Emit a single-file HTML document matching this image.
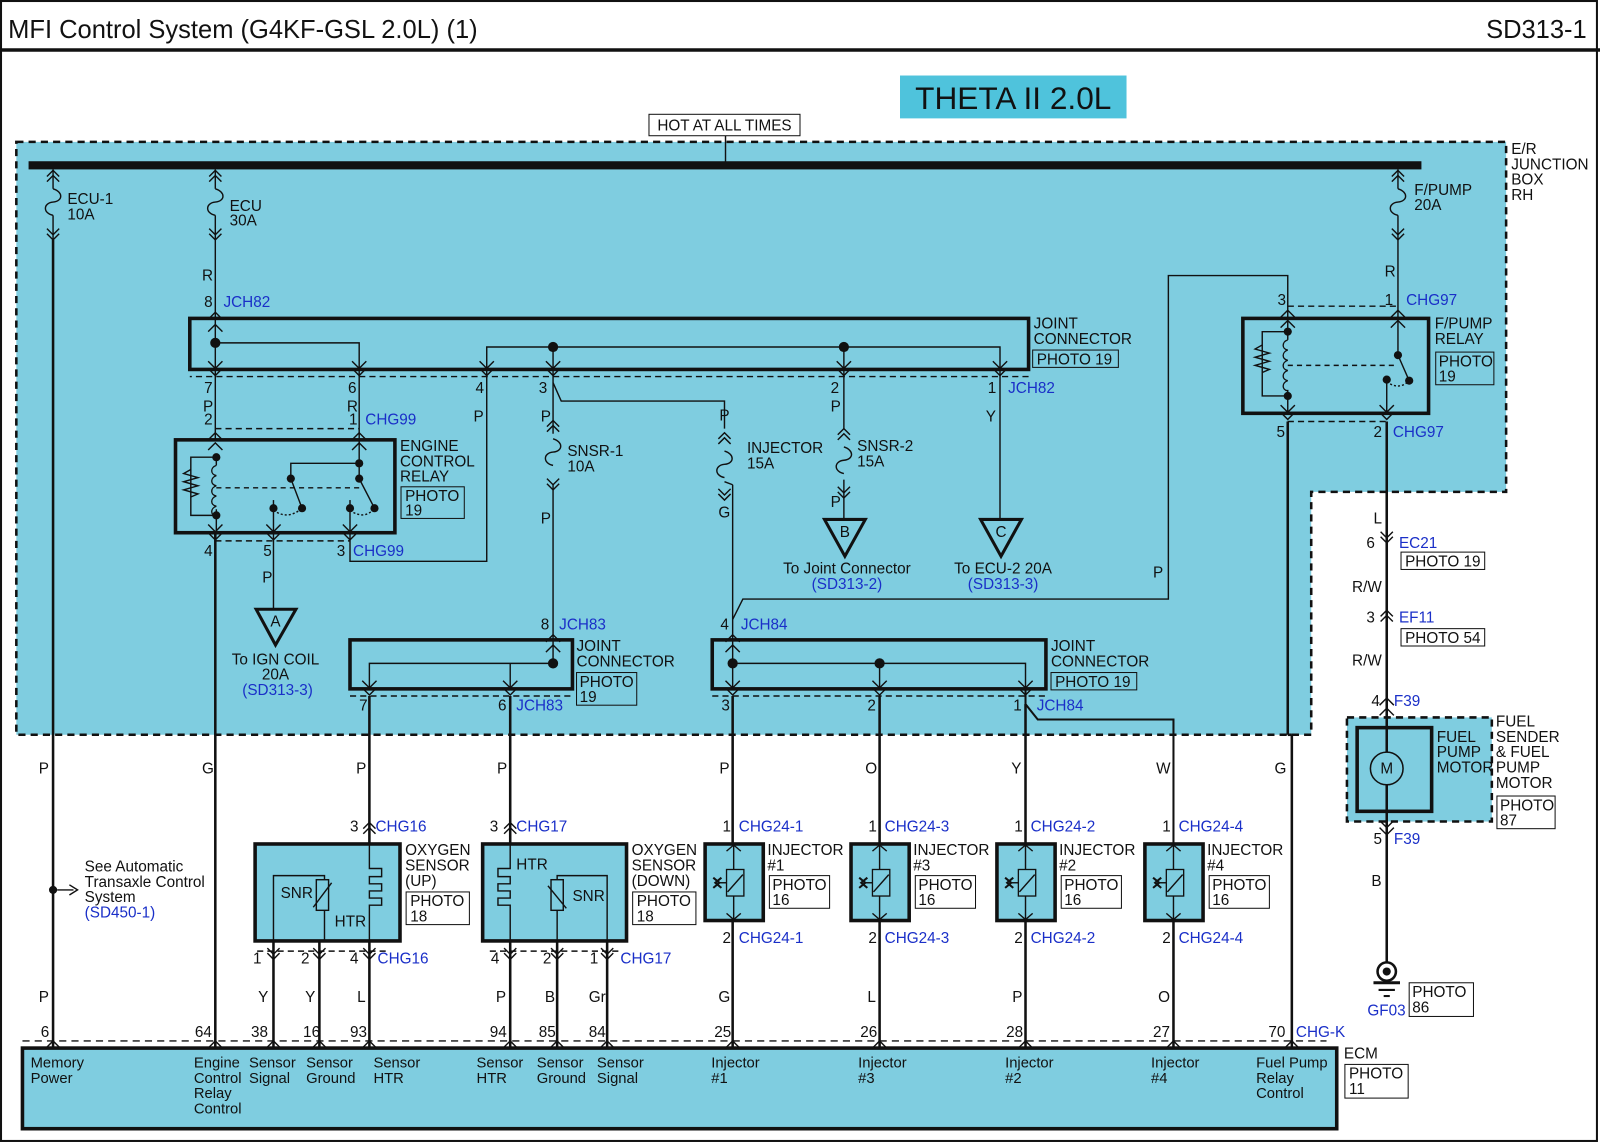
<!DOCTYPE html>
<html><head><meta charset="utf-8"><style>
html,body{margin:0;padding:0;background:#fff}
svg{display:block}
text{font-family:"Liberation Sans",sans-serif;font-size:15px;fill:#111}
.b{fill:#1a2fc8}
.s{font-size:15px}
.e{font-size:14.5px}
</style></head><body>
<svg width="1600" height="1143" viewBox="0 0 1568 1120" preserveAspectRatio="none" xmlns="http://www.w3.org/2000/svg">
<defs>
<g id="cu" fill="none" stroke="#111" stroke-width="1.4"><polyline points="-6,6 0,0 6,6"/><polyline points="-6,11 0,5 6,11"/></g>
<g id="cd" fill="none" stroke="#111" stroke-width="1.4"><polyline points="-6,-6 0,0 6,-6"/><polyline points="-6,-11 0,-5 6,-11"/></g>
<g id="au" fill="none" stroke="#111" stroke-width="1.4"><polyline points="-7,7 0,0 7,7"/></g>
<g id="ad" fill="none" stroke="#111" stroke-width="1.4"><polyline points="-7,-7 0,0 7,-7"/></g>
<path id="fz" d="M0,0 c10,3 10,12 0,13 c-10,1 -10,11 0,13" fill="none" stroke="#111" stroke-width="1.4"/>
<g id="coil" fill="none" stroke="#111" stroke-width="1.3"><path d="M0,0 c-6,2 -6,9 0,10 c-6,2 -6,9 0,10 c-6,2 -6,9 0,10 c-6,2 -6,9 0,10 c-6,2 -6,9 0,10"/></g>
<g id="inj"><rect x="0" y="0" width="57" height="75" fill="#7fcde0" stroke="#111" stroke-width="3.5"/>
<line x1="28" y1="0" x2="28" y2="75" stroke="#111" stroke-width="1.4"/>
<rect x="21" y="25" width="17" height="26" fill="#7fcde0" stroke="#111" stroke-width="1.3"/>
<line x1="22" y1="47" x2="37" y2="30" stroke="#111" stroke-width="1.4"/>
<line x1="12" y1="38" x2="21" y2="38" stroke="#111" stroke-width="1.4"/>
<path d="M8,33 L14,38 L8,43 M16,33 L10,38 L16,43" fill="none" stroke="#111" stroke-width="2"/>
<polyline points="21,7 28,1 35,7" fill="none" stroke="#111" stroke-width="1.4"/>
<polyline points="21,68 28,74 35,68" fill="none" stroke="#111" stroke-width="1.4"/></g>
</defs>
<rect x="0" y="0" width="1568" height="1120" fill="#fff"/>
<rect x="1" y="1" width="1564" height="1117" fill="none" stroke="#111" stroke-width="2"/>
<line x1="0" y1="49" x2="1568" y2="49" stroke="#111" stroke-width="3.5"/>
<text x="8" y="37" style="font-size:25px">MFI Control System (G4KF-GSL 2.0L) (1)</text>
<text x="1555" y="37" text-anchor="end" style="font-size:25px">SD313-1</text>
<rect x="882" y="74" width="222" height="42" fill="#4fc3dc"/>
<text x="993" y="107" text-anchor="middle" style="font-size:31px">THETA II 2.0L</text>

<path d="M16,139 H1476 V482 H1285 V720 H16 Z" fill="#7fcde0" stroke="#111" stroke-width="2.5" stroke-dasharray="7,5"/>
<text x="1481" y="151" class="s">E/R</text><text x="1481" y="166" class="s">JUNCTION</text><text x="1481" y="181" class="s">BOX</text><text x="1481" y="196" class="s">RH</text>
<rect x="636" y="112" width="148" height="21" fill="#fff" stroke="#111"/>
<text x="710" y="128" text-anchor="middle" class="s">HOT AT ALL TIMES</text>
<line x1="711" y1="133" x2="711" y2="160" stroke="#111" stroke-width="1.4"/>
<rect x="28" y="158" width="1365" height="8" fill="#111"/>

<g stroke="#111" stroke-width="1.4" fill="none">
<line x1="52" y1="166" x2="52" y2="185"/><line x1="52" y1="211" x2="52" y2="235"/>
<line x1="211" y1="166" x2="211" y2="185"/><line x1="211" y1="211" x2="211" y2="312"/>
<line x1="1370" y1="166" x2="1370" y2="185"/><line x1="1370" y1="211" x2="1370" y2="312"/>
<line x1="211" y1="312" x2="211" y2="362"/>
<polyline points="211,336 352,336 352,362"/>
<polyline points="477,362 477,340 980,340 980,362"/>
<line x1="542" y1="340" x2="542" y2="362"/><line x1="827" y1="340" x2="827" y2="362"/>
<line x1="1008" y1="369" x2="186" y2="369" stroke-dasharray="6,4"/>
<line x1="211" y1="362" x2="211" y2="431"/><line x1="352" y1="362" x2="352" y2="431"/>
<line x1="211" y1="420" x2="352" y2="420" stroke-dasharray="6,4"/>
<polyline points="477,362 477,550 343,550 343,522"/>
<polyline points="542,362 542,375 550,393 710,393 710,420"/>
<line x1="542" y1="375" x2="542" y2="425"/>
<line x1="542" y1="475" x2="542" y2="628"/>
<line x1="710" y1="472" x2="718" y2="475"/><line x1="718" y1="475" x2="718" y2="628"/>
<line x1="827" y1="362" x2="827" y2="420"/><line x1="827" y1="470" x2="827" y2="510"/>
<line x1="980" y1="362" x2="980" y2="510"/>
<line x1="211" y1="522" x2="211" y2="1027" stroke-width="2.5"/>
<line x1="268" y1="490" x2="268" y2="597"/>
<polyline points="212,448 187,448 187,505 212,505"/>
<path d="M187,460 l-7,4 l14,4 l-14,4 l14,4 l-14,4 l14,4 l-7,3"/>
<line x1="212" y1="448" x2="212" y2="456"/><line x1="212" y1="499" x2="212" y2="522"/>
<line x1="212" y1="478" x2="352" y2="478" stroke-dasharray="5,4"/>
<polyline points="285,469 285,454 352,454 352,431"/><line x1="352" y1="454" x2="352" y2="469"/>
<line x1="285" y1="469" x2="296" y2="498"/><line x1="352" y1="469" x2="367" y2="498"/>
<path d="M268,500 q14,10 28,-2 M343,500 q14,10 24,-2" stroke-dasharray="2,2"/>
<line x1="343" y1="490" x2="343" y2="522"/>
<line x1="211" y1="530" x2="343" y2="530" stroke-dasharray="6,4"/>
<polyline points="542,628 542,650 362,650 362,675"/>
<line x1="500" y1="650" x2="500" y2="675"/>
<line x1="343" y1="682" x2="561" y2="682" stroke-dasharray="6,4"/>
<line x1="718" y1="628" x2="718" y2="675"/>
<polyline points="718,650 1005,650 1005,675"/>
<line x1="862" y1="650" x2="862" y2="675"/>
<line x1="698" y1="682" x2="1025" y2="682" stroke-dasharray="6,4"/>
<polyline points="1005,675 1005,690 1017,705 1150,705 1150,827" stroke-width="2"/>
<polyline points="718,607 728,587 1145,587 1145,270 1262,270 1262,312"/>
<polyline points="1262,325 1237,325 1237,388 1262,388"/>
<path d="M1237,338 l-7,4 l14,4 l-14,4 l14,4 l-14,4 l14,4 l-7,3"/>
<line x1="1262" y1="312" x2="1262" y2="333"/><line x1="1262" y1="382" x2="1262" y2="405"/>
<line x1="1262" y1="358" x2="1370" y2="358" stroke-dasharray="5,4"/>
<line x1="1370" y1="312" x2="1370" y2="348"/><line x1="1370" y1="348" x2="1381" y2="373"/>
<line x1="1359" y1="372" x2="1359" y2="405"/>
<path d="M1359,374 q12,9 22,-1" stroke-dasharray="2,2"/>
<line x1="1262" y1="300" x2="1370" y2="300" stroke-dasharray="6,4"/>
<line x1="1262" y1="413" x2="1359" y2="413" stroke-dasharray="6,4"/>
</g>
<use href="#cu" x="52" y="167"/><use href="#fz" x="52" y="185"/><use href="#cd" x="52" y="235"/>
<use href="#cu" x="211" y="167"/><use href="#fz" x="211" y="185"/><use href="#cd" x="211" y="235"/>
<use href="#cu" x="1370" y="167"/><use href="#fz" x="1370" y="185"/><use href="#cd" x="1370" y="235"/>
<use href="#cu" x="542" y="412"/><use href="#fz" x="542" y="430"/><use href="#cd" x="542" y="480"/>
<use href="#cu" x="710" y="424"/><use href="#fz" x="710" y="442"/><use href="#cd" x="710" y="490"/>
<use href="#cu" x="827" y="420"/><use href="#fz" x="827" y="438"/><use href="#cd" x="827" y="488"/>
<g fill="none" stroke="#111" stroke-width="3.5">
<rect x="186" y="312" width="822" height="50"/>
<rect x="172" y="431" width="215" height="91"/>
<rect x="343" y="627" width="218" height="48"/>
<rect x="698" y="627" width="327" height="48"/>
<rect x="1218" y="312" width="182" height="93"/>
</g>
<g fill="#111">
<circle cx="211" cy="336" r="5"/><circle cx="542" cy="340" r="5"/><circle cx="827" cy="340" r="5"/>
<circle cx="212" cy="448" r="4"/><circle cx="212" cy="505" r="4"/><circle cx="285" cy="469" r="4"/><circle cx="352" cy="454" r="4"/><circle cx="352" cy="469" r="4"/>
<circle cx="268" cy="498" r="4"/><circle cx="296" cy="498" r="4"/><circle cx="343" cy="498" r="4"/><circle cx="367" cy="498" r="4"/>
<circle cx="542" cy="650" r="5"/><circle cx="718" cy="650" r="5"/><circle cx="862" cy="650" r="5"/>
<circle cx="1262" cy="325" r="4"/><circle cx="1262" cy="388" r="4"/><circle cx="1370" cy="348" r="4"/><circle cx="1381" cy="373" r="4"/><circle cx="1359" cy="372" r="4"/>
</g>
<use href="#au" x="211" y="306"/><use href="#au" x="211" y="318"/>
<use href="#ad" x="211" y="361"/><use href="#ad" x="211" y="368"/><use href="#ad" x="352" y="361"/><use href="#ad" x="352" y="368"/>
<use href="#ad" x="477" y="361"/><use href="#ad" x="477" y="368"/><use href="#ad" x="542" y="361"/><use href="#ad" x="542" y="368"/>
<use href="#ad" x="827" y="361"/><use href="#ad" x="827" y="368"/><use href="#ad" x="980" y="361"/><use href="#ad" x="980" y="368"/>
<use href="#au" x="211" y="424"/><use href="#au" x="211" y="434"/><use href="#au" x="352" y="424"/><use href="#au" x="352" y="434"/>
<use href="#ad" x="211" y="521"/><use href="#ad" x="211" y="529"/><use href="#ad" x="268" y="521"/><use href="#ad" x="268" y="529"/><use href="#ad" x="343" y="521"/><use href="#ad" x="343" y="529"/>
<use href="#au" x="542" y="622"/><use href="#au" x="542" y="632"/><use href="#au" x="718" y="622"/><use href="#au" x="718" y="632"/>
<use href="#ad" x="362" y="674"/><use href="#ad" x="362" y="681"/><use href="#ad" x="500" y="674"/><use href="#ad" x="500" y="681"/>
<use href="#ad" x="718" y="674"/><use href="#ad" x="718" y="681"/><use href="#ad" x="862" y="674"/><use href="#ad" x="862" y="681"/><use href="#ad" x="1005" y="674"/><use href="#ad" x="1005" y="681"/>
<use href="#au" x="1262" y="304"/><use href="#au" x="1262" y="314"/><use href="#au" x="1370" y="304"/><use href="#au" x="1370" y="314"/>
<use href="#ad" x="1262" y="404"/><use href="#ad" x="1262" y="411"/><use href="#ad" x="1359" y="404"/><use href="#ad" x="1359" y="411"/>
<use href="#coil" x="212" y="456"/><use href="#coil" x="1262" y="333"/>
<g fill="none" stroke="#111" stroke-width="3">
<path d="M251,597 H290 L270,632 Z"/><path d="M808,509 H848 L828,545 Z"/><path d="M961,509 H1001 L981,545 Z"/>
</g>
<text x="270" y="614" text-anchor="middle">A</text><text x="828" y="526" text-anchor="middle">B</text><text x="981" y="526" text-anchor="middle">C</text>
<text x="66" y="200" class="s">ECU-1</text><text x="66" y="215" class="s">10A</text>
<text x="225" y="207" class="s">ECU</text><text x="225" y="221" class="s">30A</text>
<text x="1386" y="191" class="s">F/PUMP</text><text x="1386" y="206" class="s">20A</text>
<text x="198" y="275" class="s">R</text><text x="1357" y="271" class="s">R</text>
<text x="200" y="301" class="s">8</text><text x="219" y="301" class="s b">JCH82</text>
<text x="1013" y="322" class="s">JOINT</text><text x="1013" y="337" class="s">CONNECTOR</text>
<rect x="1012" y="343" width="84" height="17" fill="none" stroke="#111"/><text x="1016" y="357" class="s">PHOTO 19</text>
<text x="200" y="385" class="s">7</text><text x="341" y="385" class="s">6</text><text x="466" y="385" class="s">4</text><text x="528" y="385" class="s">3</text><text x="814" y="385" class="s">2</text><text x="968" y="385" class="s">1</text><text x="988" y="385" class="s b">JCH82</text>
<text x="199" y="403" class="s">P</text><text x="340" y="403" class="s">R</text><text x="200" y="416" class="s">2</text><text x="342" y="416" class="s">1</text><text x="358" y="416" class="s b">CHG99</text>
<text x="464" y="413" class="s">P</text><text x="530" y="413" class="s">P</text><text x="705" y="412" class="s">P</text><text x="814" y="403" class="s">P</text><text x="966" y="413" class="s">Y</text>
<text x="392" y="442" class="s">ENGINE</text><text x="392" y="457" class="s">CONTROL</text><text x="392" y="472" class="s">RELAY</text>
<rect x="393" y="477" width="62" height="31" fill="none" stroke="#111"/><text x="397" y="491" class="s">PHOTO</text><text x="397" y="505" class="s">19</text>
<text x="556" y="447" class="s">SNSR-1</text><text x="556" y="462" class="s">10A</text>
<text x="732" y="444" class="s">INJECTOR</text><text x="732" y="459" class="s">15A</text>
<text x="840" y="442" class="s">SNSR-2</text><text x="840" y="457" class="s">15A</text>
<text x="530" y="513" class="s">P</text><text x="704" y="507" class="s">G</text><text x="814" y="497" class="s">P</text>
<text x="200" y="545" class="s">4</text><text x="258" y="545" class="s">5</text><text x="330" y="545" class="s">3</text><text x="346" y="545" class="s b">CHG99</text>
<text x="257" y="571" class="s">P</text>
<text x="270" y="651" text-anchor="middle" class="s">To IGN COIL</text><text x="270" y="666" text-anchor="middle" class="s">20A</text><text x="272" y="681" text-anchor="middle" class="s b">(SD313-3)</text>
<text x="830" y="562" text-anchor="middle" class="s">To Joint Connector</text><text x="830" y="577" text-anchor="middle" class="s b">(SD313-2)</text>
<text x="983" y="562" text-anchor="middle" class="s">To ECU-2 20A</text><text x="983" y="577" text-anchor="middle" class="s b">(SD313-3)</text>
<text x="1130" y="566" class="s">P</text>
<text x="530" y="617" class="s">8</text><text x="548" y="617" class="s b">JCH83</text>
<text x="706" y="617" class="s">4</text><text x="726" y="617" class="s b">JCH84</text>
<text x="565" y="638" class="s">JOINT</text><text x="565" y="653" class="s">CONNECTOR</text>
<rect x="565" y="659" width="59" height="32" fill="none" stroke="#111"/><text x="568" y="673" class="s">PHOTO</text><text x="568" y="688" class="s">19</text>
<text x="1030" y="638" class="s">JOINT</text><text x="1030" y="653" class="s">CONNECTOR</text>
<rect x="1030" y="659" width="84" height="17" fill="none" stroke="#111"/><text x="1034" y="673" class="s">PHOTO 19</text>
<text x="352" y="696" class="s">7</text><text x="488" y="696" class="s">6</text><text x="506" y="696" class="s b">JCH83</text>
<text x="707" y="696" class="s">3</text><text x="850" y="696" class="s">2</text><text x="993" y="696" class="s">1</text><text x="1016" y="696" class="s b">JCH84</text>
<text x="1252" y="299" class="s">3</text><text x="1357" y="299" class="s">1</text><text x="1378" y="299" class="s b">CHG97</text>
<text x="1406" y="322" class="s">F/PUMP</text><text x="1406" y="337" class="s">RELAY</text>
<rect x="1407" y="345" width="57" height="32" fill="none" stroke="#111"/><text x="1410" y="359" class="s">PHOTO</text><text x="1410" y="374" class="s">19</text>
<text x="1251" y="428" class="s">5</text><text x="1346" y="428" class="s">2</text><text x="1365" y="428" class="s b">CHG97</text>

<g stroke="#111" stroke-width="2.5" fill="none">
<line x1="52" y1="235" x2="52" y2="1027"/>
<line x1="362" y1="682" x2="362" y2="827"/><line x1="500" y1="682" x2="500" y2="827"/>
<line x1="718" y1="682" x2="718" y2="1027"/><line x1="862" y1="682" x2="862" y2="1027"/><line x1="1005" y1="690" x2="1005" y2="1027"/><line x1="1150" y1="827" x2="1150" y2="1027"/>
<line x1="1262" y1="413" x2="1262" y2="720"/><line x1="1266" y1="720" x2="1266" y2="1027"/><line x1="1262" y1="720" x2="1266" y2="720"/>
<line x1="1359" y1="413" x2="1359" y2="945"/>
<line x1="268" y1="922" x2="268" y2="1027"/><line x1="313" y1="922" x2="313" y2="1027"/><line x1="362" y1="922" x2="362" y2="1027"/>
<line x1="500" y1="922" x2="500" y2="1027"/><line x1="546" y1="922" x2="546" y2="1027"/><line x1="595" y1="922" x2="595" y2="1027"/>
</g>
<g stroke="#111" stroke-width="1.4" fill="none">
<line x1="56" y1="872" x2="72" y2="872"/><path d="M68,867 L76,872 L68,877"/>
<line x1="252" y1="932" x2="380" y2="932" stroke-dasharray="6,4"/><line x1="480" y1="932" x2="610" y2="932" stroke-dasharray="6,4"/>
<line x1="22" y1="1020" x2="1300" y2="1020" stroke-dasharray="7,5"/>
</g>
<circle cx="52" cy="872" r="4" fill="#111"/>
<text x="83" y="854" class="s">See Automatic</text><text x="83" y="869" class="s">Transaxle Control</text><text x="83" y="884" class="s">System</text><text x="83" y="899" class="s b">(SD450-1)</text>

<use href="#cd" x="1359" y="532"/><use href="#cu" x="1359" y="598"/><use href="#au" x="1359" y="684"/><use href="#au" x="1359" y="694"/>
<use href="#ad" x="1359" y="811"/><use href="#ad" x="1359" y="818"/>
<text x="1346" y="513" class="s">L</text>
<text x="1339" y="537" class="s">6</text><text x="1371" y="537" class="s b">EC21</text>
<rect x="1373" y="541" width="82" height="17" fill="#fff" stroke="#111"/><text x="1377" y="555" class="s">PHOTO 19</text>
<text x="1325" y="580" class="s">R/W</text>
<text x="1339" y="610" class="s">3</text><text x="1371" y="610" class="s b">EF11</text>
<rect x="1373" y="616" width="82" height="17" fill="#fff" stroke="#111"/><text x="1377" y="630" class="s">PHOTO 54</text>
<text x="1325" y="652" class="s">R/W</text>
<text x="1344" y="692" class="s">4</text><text x="1366" y="692" class="s b">F39</text>
<rect x="1320" y="703" width="142" height="102" fill="#7fcde0" stroke="#111" stroke-width="2.5" stroke-dasharray="7,5"/>
<rect x="1330" y="713" width="73" height="82" fill="none" stroke="#111" stroke-width="3.5"/>
<line x1="1359" y1="700" x2="1359" y2="737" stroke="#111" stroke-width="2.5"/><line x1="1359" y1="769" x2="1359" y2="811" stroke="#111" stroke-width="2.5"/>
<circle cx="1359" cy="753" r="16" fill="none" stroke="#111" stroke-width="1.5"/><text x="1359" y="758" text-anchor="middle" class="s">M</text>
<text x="1408" y="727" class="s">FUEL</text><text x="1408" y="742" class="s">PUMP</text><text x="1408" y="757" class="s">MOTOR</text>
<text x="1466" y="712" class="s">FUEL</text><text x="1466" y="727" class="s">SENDER</text><text x="1466" y="742" class="s">&amp; FUEL</text><text x="1466" y="757" class="s">PUMP</text><text x="1466" y="772" class="s">MOTOR</text>
<rect x="1467" y="780" width="57" height="32" fill="#fff" stroke="#111"/><text x="1470" y="794" class="s">PHOTO</text><text x="1470" y="809" class="s">87</text>
<text x="1346" y="827" class="s">5</text><text x="1366" y="827" class="s b">F39</text>
<text x="1344" y="868" class="s">B</text>
<circle cx="1359" cy="952" r="9" fill="#fff" stroke="#111" stroke-width="2.5"/><circle cx="1359" cy="952" r="4" fill="#111"/>
<line x1="1346" y1="963" x2="1372" y2="963" stroke="#111" stroke-width="3"/><line x1="1351" y1="970" x2="1367" y2="970" stroke="#111" stroke-width="2"/><line x1="1356" y1="976" x2="1362" y2="976" stroke="#111" stroke-width="2"/>
<text x="1340" y="995" class="s b">GF03</text>
<rect x="1381" y="963" width="63" height="33" fill="#fff" stroke="#111"/><text x="1384" y="977" class="s">PHOTO</text><text x="1384" y="992" class="s">86</text>

<text x="38" y="758" class="s">P</text><text x="198" y="758" class="s">G</text><text x="349" y="758" class="s">P</text><text x="487" y="758" class="s">P</text>
<text x="705" y="758" class="s">P</text><text x="848" y="758" class="s">O</text><text x="991" y="758" class="s">Y</text><text x="1133" y="758" class="s">W</text><text x="1249" y="758" class="s">G</text>
<text x="38" y="982" class="s">P</text><text x="253" y="982" class="s">Y</text><text x="299" y="982" class="s">Y</text><text x="350" y="982" class="s">L</text>
<text x="486" y="982" class="s">P</text><text x="534" y="982" class="s">B</text><text x="577" y="982" class="s">Gr</text>
<text x="704" y="982" class="s">G</text><text x="850" y="982" class="s">L</text><text x="992" y="982" class="s">P</text><text x="1135" y="982" class="s">O</text>

<text x="343" y="815" class="s">3</text><text x="368" y="815" class="s b">CHG16</text>
<text x="480" y="815" class="s">3</text><text x="506" y="815" class="s b">CHG17</text>
<use href="#cu" x="362" y="806"/><use href="#cu" x="500" y="806"/>
<rect x="250" y="827" width="142" height="95" fill="#7fcde0" stroke="#111" stroke-width="3.5"/>
<rect x="473" y="827" width="141" height="95" fill="#7fcde0" stroke="#111" stroke-width="3.5"/>
<g stroke="#111" stroke-width="1.4" fill="none">
<polyline points="268,922 268,858 318,858 318,862"/><rect x="310" y="862" width="12" height="30"/><line x1="318" y1="892" x2="318" y2="922"/><line x1="307" y1="889" x2="325" y2="865"/>
<path d="M362,827 V851 H374 V859 H362 V866 H374 V873 H362 V880 H374 V887 H362 V922"/>
<path d="M500,827 V851 H488 V859 H500 V866 H488 V873 H500 V880 H488 V887 H500 V922"/>
<polyline points="595,922 595,858 546,858 546,862"/><rect x="540" y="862" width="12" height="30"/><line x1="546" y1="892" x2="546" y2="922"/><line x1="537" y1="868" x2="555" y2="890"/>
</g>
<text x="275" y="880" class="s">SNR</text><text x="328" y="908" class="s">HTR</text>
<text x="506" y="852" class="s">HTR</text><text x="561" y="883" class="s">SNR</text>
<text x="397" y="838" class="s">OXYGEN</text><text x="397" y="853" class="s">SENSOR</text><text x="397" y="868" class="s">(UP)</text>
<rect x="398" y="874" width="62" height="32" fill="#fff" stroke="#111"/><text x="402" y="888" class="s">PHOTO</text><text x="402" y="903" class="s">18</text>
<text x="619" y="838" class="s">OXYGEN</text><text x="619" y="853" class="s">SENSOR</text><text x="619" y="868" class="s">(DOWN)</text>
<rect x="620" y="874" width="62" height="32" fill="#fff" stroke="#111"/><text x="624" y="888" class="s">PHOTO</text><text x="624" y="903" class="s">18</text>
<use href="#cd" x="268" y="940"/><use href="#cd" x="313" y="940"/><use href="#cd" x="362" y="940"/><use href="#cd" x="500" y="940"/><use href="#cd" x="546" y="940"/><use href="#cd" x="595" y="940"/>
<text x="248" y="944" class="s">1</text><text x="295" y="944" class="s">2</text><text x="343" y="944" class="s">4</text><text x="370" y="944" class="s b">CHG16</text>
<text x="481" y="944" class="s">4</text><text x="532" y="944" class="s">2</text><text x="578" y="944" class="s">1</text><text x="608" y="944" class="s b">CHG17</text>

<use href="#inj" x="691" y="827"/><use href="#inj" x="834" y="827"/><use href="#inj" x="977" y="827"/><use href="#inj" x="1122" y="827"/>
<text x="708" y="815" class="s">1</text><text x="724" y="815" class="s b">CHG24-1</text>
<text x="851" y="815" class="s">1</text><text x="867" y="815" class="s b">CHG24-3</text>
<text x="994" y="815" class="s">1</text><text x="1010" y="815" class="s b">CHG24-2</text>
<text x="1139" y="815" class="s">1</text><text x="1155" y="815" class="s b">CHG24-4</text>
<text x="708" y="924" class="s">2</text><text x="724" y="924" class="s b">CHG24-1</text>
<text x="851" y="924" class="s">2</text><text x="867" y="924" class="s b">CHG24-3</text>
<text x="994" y="924" class="s">2</text><text x="1010" y="924" class="s b">CHG24-2</text>
<text x="1139" y="924" class="s">2</text><text x="1155" y="924" class="s b">CHG24-4</text>
<text x="752" y="838" class="s">INJECTOR</text><text x="752" y="853" class="s">#1</text><rect x="754" y="858" width="59" height="32" fill="#fff" stroke="#111"/><text x="757" y="872" class="s">PHOTO</text><text x="757" y="887" class="s">16</text>
<text x="895" y="838" class="s">INJECTOR</text><text x="895" y="853" class="s">#3</text><rect x="897" y="858" width="59" height="32" fill="#fff" stroke="#111"/><text x="900" y="872" class="s">PHOTO</text><text x="900" y="887" class="s">16</text>
<text x="1038" y="838" class="s">INJECTOR</text><text x="1038" y="853" class="s">#2</text><rect x="1040" y="858" width="59" height="32" fill="#fff" stroke="#111"/><text x="1043" y="872" class="s">PHOTO</text><text x="1043" y="887" class="s">16</text>
<text x="1183" y="838" class="s">INJECTOR</text><text x="1183" y="853" class="s">#4</text><rect x="1185" y="858" width="59" height="32" fill="#fff" stroke="#111"/><text x="1188" y="872" class="s">PHOTO</text><text x="1188" y="887" class="s">16</text>

<text x="40" y="1016" class="s">6</text><text x="191" y="1016" class="s">64</text><text x="246" y="1016" class="s">38</text><text x="297" y="1016" class="s">16</text><text x="343" y="1016" class="s">93</text>
<text x="480" y="1016" class="s">94</text><text x="528" y="1016" class="s">85</text><text x="577" y="1016" class="s">84</text>
<text x="700" y="1016" class="s">25</text><text x="843" y="1016" class="s">26</text><text x="986" y="1016" class="s">28</text><text x="1130" y="1016" class="s">27</text><text x="1243" y="1016" class="s">70</text><text x="1270" y="1016" class="s b">CHG-K</text>
<rect x="22" y="1027" width="1288" height="79" fill="#7fcde0" stroke="#111" stroke-width="3.5"/>
<g fill="none" stroke="#111" stroke-width="1.4">
<polyline points="45,1027 52,1020 59,1027"/><polyline points="204,1027 211,1020 218,1027"/><polyline points="261,1027 268,1020 275,1027"/><polyline points="306,1027 313,1020 320,1027"/><polyline points="355,1027 362,1020 369,1027"/>
<polyline points="493,1027 500,1020 507,1027"/><polyline points="539,1027 546,1020 553,1027"/><polyline points="588,1027 595,1020 602,1027"/>
<polyline points="711,1027 718,1020 725,1027"/><polyline points="855,1027 862,1020 869,1027"/><polyline points="998,1027 1005,1020 1012,1027"/><polyline points="1143,1027 1150,1020 1157,1027"/><polyline points="1259,1027 1266,1020 1273,1027"/>
</g>
<text x="30" y="1046" class="e">Memory</text><text x="30" y="1061" class="e">Power</text>
<text x="190" y="1046" class="e">Engine</text><text x="190" y="1061" class="e">Control</text><text x="190" y="1076" class="e">Relay</text><text x="190" y="1091" class="e">Control</text>
<text x="244" y="1046" class="e">Sensor</text><text x="244" y="1061" class="e">Signal</text>
<text x="300" y="1046" class="e">Sensor</text><text x="300" y="1061" class="e">Ground</text>
<text x="366" y="1046" class="e">Sensor</text><text x="366" y="1061" class="e">HTR</text>
<text x="467" y="1046" class="e">Sensor</text><text x="467" y="1061" class="e">HTR</text>
<text x="526" y="1046" class="e">Sensor</text><text x="526" y="1061" class="e">Ground</text>
<text x="585" y="1046" class="e">Sensor</text><text x="585" y="1061" class="e">Signal</text>
<text x="697" y="1046" class="e">Injector</text><text x="697" y="1061" class="e">#1</text>
<text x="841" y="1046" class="e">Injector</text><text x="841" y="1061" class="e">#3</text>
<text x="985" y="1046" class="e">Injector</text><text x="985" y="1061" class="e">#2</text>
<text x="1128" y="1046" class="e">Injector</text><text x="1128" y="1061" class="e">#4</text>
<text x="1231" y="1046" class="e">Fuel Pump</text><text x="1231" y="1061" class="e">Relay</text><text x="1231" y="1076" class="e">Control</text>
<text x="1317" y="1037" class="s">ECM</text>
<rect x="1318" y="1043" width="62" height="33" fill="#fff" stroke="#111"/><text x="1322" y="1057" class="s">PHOTO</text><text x="1322" y="1072" class="s">11</text>
</svg>
</body></html>
